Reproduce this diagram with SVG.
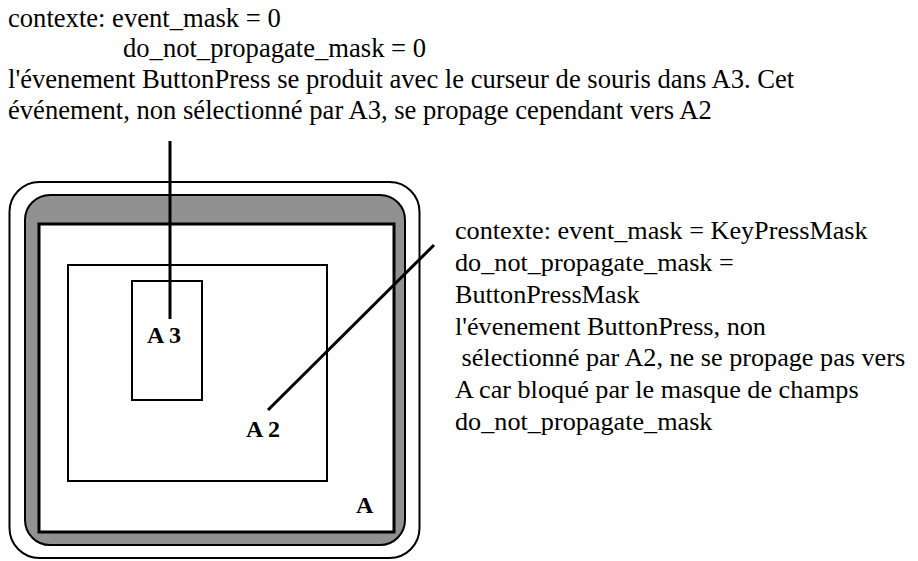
<svg xmlns="http://www.w3.org/2000/svg" width="918" height="561" viewBox="0 0 918 561">
<style>
text{font-family:'Liberation Serif','Times New Roman','DejaVu Serif',serif;fill:#000}
.t{font-size:26.6px}
.r{font-size:26.2px}
.b{font-size:24px;font-weight:bold}
.ln{stroke:#000;stroke-width:3;fill:none}
.box{fill:#fff;stroke:#000}
</style>
<rect width="918" height="561" fill="#fff"/>
<g id="A">
<rect class="box" x="9.5" y="182" width="410" height="376" rx="30" stroke-width="2"/>
<rect x="25" y="195" width="380" height="350" rx="25" fill="#919191" stroke="#000" stroke-width="2"/>
<rect class="box" x="39" y="224" width="355" height="308" stroke-width="3"/>
<text class="b" x="356" y="513">A</text>
</g>
<g id="A2">
<rect class="box" x="68" y="265" width="259" height="216" stroke-width="2"/>
<text class="b" x="246" y="437">A 2</text>
</g>
<g id="A3">
<rect class="box" x="132" y="281" width="70" height="119" stroke-width="2"/>
<text class="b" x="147" y="343">A 3</text>
</g>
<g id="connectors">
<line class="ln" x1="170" y1="141" x2="170" y2="319"/>
<line class="ln" x1="434" y1="245" x2="268" y2="410"/>
</g>
<g id="note-top">
<text class="t" x="8" y="27">contexte: event_mask = 0</text>
<text class="t" x="123" y="57">do_not_propagate_mask = 0</text>
<text class="t" x="8" y="88">l'évenement ButtonPress se produit avec le curseur de souris dans A3. Cet</text>
<text class="t" x="8" y="119">événement, non sélectionné par A3, se propage cependant vers A2</text>
</g>
<g id="note-right">
<text class="r" x="455" y="239">contexte: event_mask = KeyPressMask</text>
<text class="r" x="455" y="271">do_not_propagate_mask =</text>
<text class="r" x="455" y="303">ButtonPressMask</text>
<text class="r" x="455" y="335">l'évenement ButtonPress, non</text>
<text class="r" x="455" y="366" xml:space="preserve"> sélectionné par A2, ne se propage pas vers</text>
<text class="r" x="455" y="398">A car bloqué par le masque de champs</text>
<text class="r" x="455" y="430">do_not_propagate_mask</text>
</g>
</svg>
